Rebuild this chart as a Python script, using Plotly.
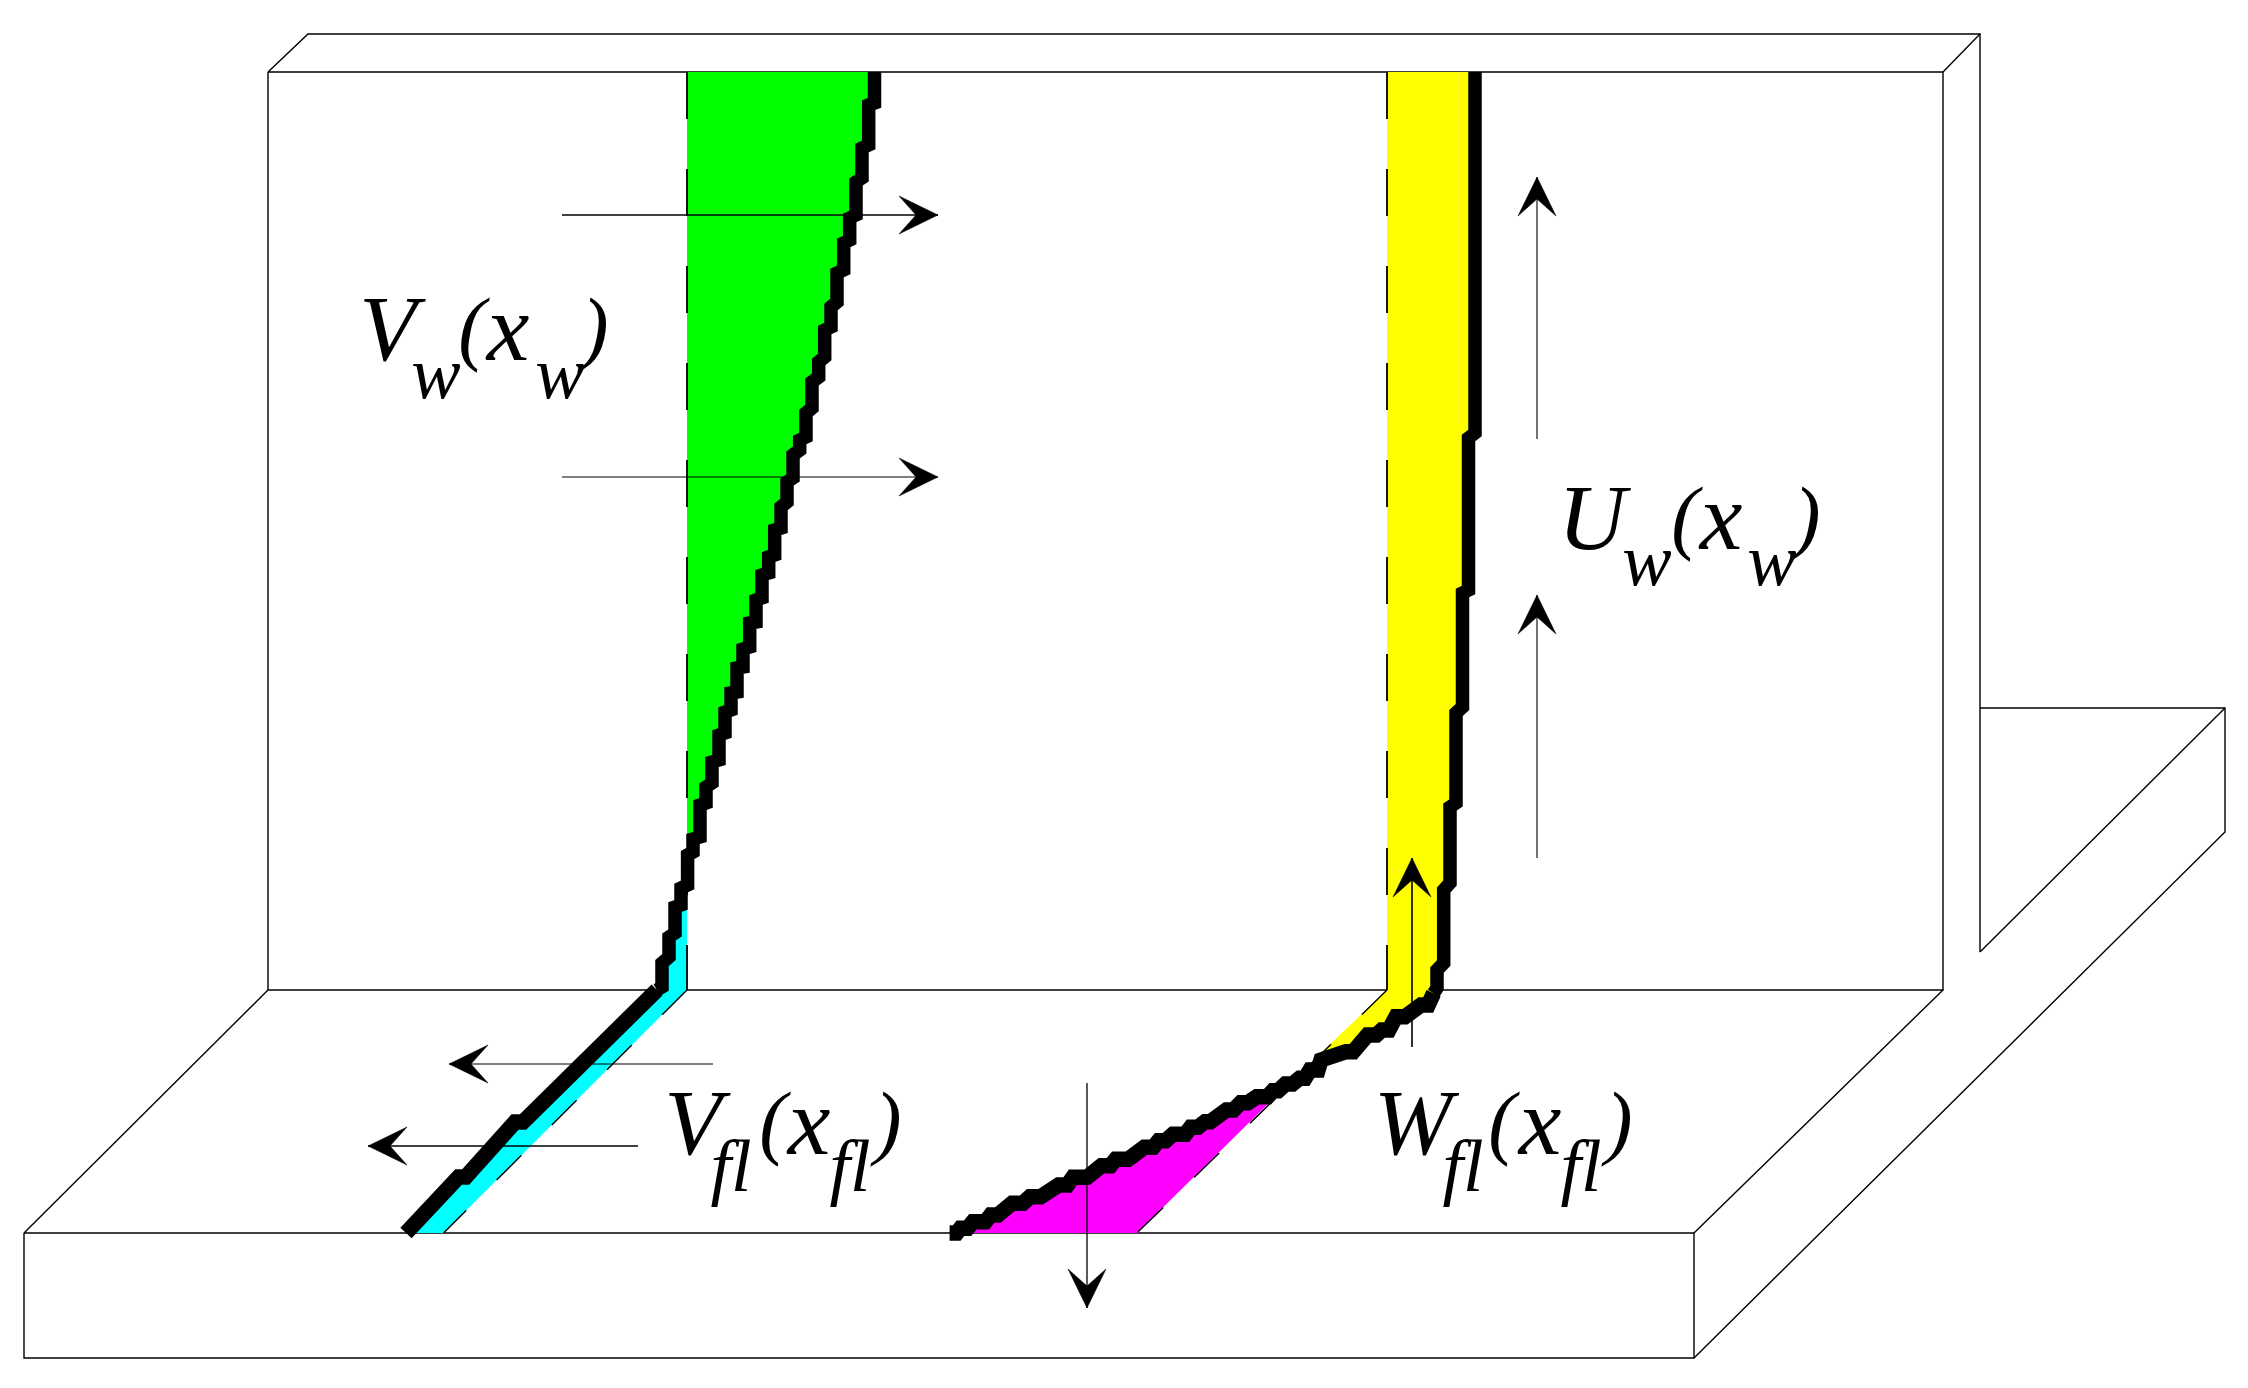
import numpy as np
import plotly.graph_objects as go

# outline of the wall and flange, one list per polyline (pixels of the drawing)
frame_x = [
    [268, 1943, 1943, 268, 268],
    [268, 308, 1980, 1980],
    [1943, 1980],
    [24, 1694, 1694, 24, 24],
    [24, 268],
    [1694, 1943],
    [1980, 2225, 2225, 1694],
    [1980, 2225],
]
frame_y = [
    [72, 72, 990, 990, 72],
    [72, 34, 34, 952],
    [72, 34],
    [1233, 1233, 1358, 1358, 1233],
    [1233, 990],
    [1233, 990],
    [708, 708, 832, 1358],
    [952, 708],
]

# V stress profile, wall top to flange tip
v_curve_x = [874.5, 874.5, 868.7, 868.7, 862, 862, 856, 856, 849.7, 849.7, 843.7, 843.7,
             837, 837, 831, 831, 824.7, 824.7, 818.7, 818.7, 812, 812, 806, 806,
             799.7, 799.7, 793, 793, 787, 787, 781, 781, 774.7, 774.7, 768.7, 768.7,
             762, 762, 756, 756, 749.7, 749.7, 743, 743, 737, 737, 731, 731,
             725, 725, 719, 719, 712, 712, 706, 706, 700, 700, 693, 693,
             687.6, 687.6, 681, 681, 675, 675, 669, 669, 662, 662,
             657, 582, 535, 523, 515, 491, 480, 465.7, 458.6, 406]
v_curve_y = [72, 103, 105, 145, 148, 178, 182, 215, 218, 240, 243, 270,
             273, 302, 307, 327, 330, 357, 362, 377, 382, 408, 413, 437,
             440, 450, 455, 478, 482, 502, 507, 528, 530, 555, 557, 573,
             575, 598, 600, 622, 623, 647, 649, 667, 668, 692, 693, 710,
             712, 733, 735, 760, 762, 783, 787, 803, 805, 837, 839, 852,
             855, 885, 888, 905, 907, 933, 937, 957, 963, 987,
             990, 1065, 1112, 1122, 1122, 1147, 1163, 1177, 1177, 1233]

# U / W stress profile, wall top to flange centre
u_curve_x = [1475, 1475, 1468.5, 1468.5, 1462.5, 1462.5, 1456, 1456, 1450, 1450,
             1443.7, 1443.7, 1437, 1437, 1433.6, 1428.2, 1421, 1405, 1396, 1388.9, 1381.8,
             1376.4, 1367.5, 1353.2, 1346, 1338.9, 1333.6, 1328.2, 1321, 1318, 1310, 1305, 1299.6,
             1292.5, 1285.4, 1278.2, 1272.9, 1267.5, 1256.8, 1247.9, 1240.7, 1233.6, 1226.4,
             1210.4, 1205, 1197.9, 1190.7, 1185.4, 1172.9, 1165.7, 1158.6, 1153.2, 1144.3,
             1128.2, 1115.7, 1110.4, 1101.4, 1087.1, 1072.9, 1067.5, 1058.6, 1040.7, 1030,
             1022.9, 1012.1, 997.9, 990.7, 985.4, 972.9, 967.5, 960.4, 956.8, 949.6]
u_curve_y = [72, 433, 438, 590, 593, 707, 713, 803, 807, 883,
             890, 963, 970, 988, 993.3, 1005, 1005, 1016.7, 1016.7, 1030, 1030,
             1035, 1035, 1051.7, 1051.7, 1055, 1055, 1060, 1060, 1070, 1070, 1078.3, 1078.3,
             1084, 1084, 1090.7, 1090.7, 1096.7, 1096.7, 1102.7, 1102.7, 1110, 1110,
             1121.7, 1121.7, 1127.3, 1127.3, 1134.3, 1134.3, 1140.7, 1140.7, 1147.3, 1147.3,
             1159.3, 1159.3, 1165.7, 1165.7, 1177.3, 1177.3, 1185, 1185, 1196.7, 1196.7,
             1203.3, 1203.3, 1215, 1215, 1221.7, 1221.7, 1228.3, 1228.3, 1233, 1233]

# reference lines the profiles are measured from
v_base_x = [687, 687, 443.6]
v_base_y = [72, 990, 1233]
u_base_x = [1387, 1387, 1137]
u_base_y = [72, 990, 1233]

# arrows: tail and tip, with shaft width
arrow_tail_x = [562, 562, 1537, 1537, 1412, 1087, 713, 638]
arrow_tail_y = [215, 477, 439, 858, 1047, 1083, 1064, 1146]
arrow_tip_x = [938, 938, 1537, 1537, 1412, 1087, 449, 368]
arrow_tip_y = [215, 477, 177, 595, 858, 1308, 1064, 1146]
arrow_width = [1.6, 1.1, 1.1, 1.1, 1.6, 1.3, 1.1, 1.6]

# labels, glyph by glyph
glyphs = ["V", "w", "(", "x", "w", ")",
          "U", "w", "(", "x", "w", ")",
          "V", "fl", "(", "x", "fl", ")",
          "W", "fl", "(", "x", "fl", ")"]
glyph_x = [388, 436, 472, 508, 560, 595,
           1592, 1647, 1685, 1721, 1772, 1807,
           693, 731, 773, 809, 850, 888,
           1413, 1463, 1502, 1540, 1581, 1619]
glyph_base = [365, 402, 359, 365, 402, 359,
              554, 589, 548, 554, 589, 548,
              1159, 1195, 1153, 1159, 1195, 1153,
              1159, 1195, 1153, 1159, 1195, 1153]
glyph_size = [94, 74, 82, 96, 74, 82] * 4

GREEN_END = 58   # profile points over the green part of the wall
CYAN_START = 64  # first profile point of the cyan part
U_SPLIT = sum(x > 1305 for x in u_curve_x)   # yellow stops where the profile crosses its base
W_START = sum(x > 1268 for x in u_curve_x)   # magenta starts just after the crossing
V_FLANGE = 70    # profile leaves the wall here
U_FLANGE = 14


def line(fig, x, y, width, dash="solid"):
    fig.add_trace(go.Scatter(
        x = x,
        y = y,
        mode = "lines",
        line = dict(color = "#000000", width = width, dash = dash),
        hoverinfo = "skip"
    ))


def area(fig, x, y, colour):
    fig.add_trace(go.Scatter(
        x = x,
        y = y,
        mode = "lines",
        fill = "toself",
        fillcolor = colour,
        line = dict(width = 0),
        hoverinfo = "skip"
    ))


def arrow_head(fig, tail, tip):
    # barbed head, same size on every arrow
    d = np.array(tip, dtype = float) - np.array(tail, dtype = float)
    d = d / np.linalg.norm(d)
    n = np.array([-d[1], d[0]])
    tip = np.array(tip, dtype = float)
    pts = [tip, tip - 39 * d + 19 * n, tip - 22 * d, tip - 39 * d - 19 * n, tip]
    fig.add_trace(go.Scatter(
        x = [p[0] for p in pts],
        y = [p[1] for p in pts],
        mode = "lines",
        fill = "toself",
        fillcolor = "#000000",
        line = dict(color = "#000000", width = 0.5),
        hoverinfo = "skip"
    ))


fig = go.Figure()

for xs, ys in zip(frame_x, frame_y):
    line(fig, xs, ys, 1.4)

area(fig, v_curve_x[:GREEN_END] + [687, 687], v_curve_y[:GREEN_END] + [845, 72], "#00ff00")
area(fig, v_curve_x[CYAN_START:] + [443.6, 687, 687], v_curve_y[CYAN_START:] + [1233, 990, 905], "#00ffff")
area(fig, u_curve_x[:U_SPLIT] + [1305, 1387, 1387], u_curve_y[:U_SPLIT] + [1068, 990, 72], "#ffff00")
area(fig, u_curve_x[W_START:] + [1137, 1269], u_curve_y[W_START:] + [1233, 1103], "#ff00ff")

# dashed bases: wall leg and flange leg have different dash lengths
line(fig, v_base_x[:2], v_base_y[:2], 1.8, "47px,50px")
line(fig, v_base_x[1:], v_base_y[1:], 1.4, "35px,43px")
line(fig, u_base_x[:2], u_base_y[:2], 1.8, "47px,50px")
line(fig, u_base_x[1:], u_base_y[1:], 1.4, "35px,43px")

for i in range(len(arrow_tail_x)):
    line(fig, [arrow_tail_x[i], arrow_tip_x[i]], [arrow_tail_y[i], arrow_tip_y[i]], arrow_width[i])
    arrow_head(fig, (arrow_tail_x[i], arrow_tail_y[i]), (arrow_tip_x[i], arrow_tip_y[i]))

line(fig, v_curve_x[:V_FLANGE + 1], v_curve_y[:V_FLANGE + 1], 13.5)
line(fig, v_curve_x[V_FLANGE:], v_curve_y[V_FLANGE:], 15.5)
line(fig, u_curve_x[:U_FLANGE + 1], u_curve_y[:U_FLANGE + 1], 13.5)
line(fig, u_curve_x[U_FLANGE:], u_curve_y[U_FLANGE:], 15.5)

fig.add_trace(go.Scatter(
    x = glyph_x,
    # text is centred on y, so shift back from the baseline
    y = [b - 0.3 * s for b, s in zip(glyph_base, glyph_size)],
    mode = "text",
    text = glyphs,
    textposition = "middle center",
    textfont = dict(family = "Liberation Serif", size = glyph_size, style = "italic", color = "#000000"),
    hoverinfo = "skip"
))

fig.update_layout(
    width = 2248,
    height = 1388,
    margin = dict(l = 0, r = 0, t = 0, b = 0),
    paper_bgcolor = "#ffffff",
    plot_bgcolor = "#ffffff",
    showlegend = False,
    xaxis = dict(range = [0, 2248], visible = False),
    yaxis = dict(range = [1388, 0], visible = False)
)

fig.write_html(
    "out.html",
    config = dict(displayModeBar = False),
    post_script = "document.body.style.margin='0';document.body.style.overflow='hidden';"
)
